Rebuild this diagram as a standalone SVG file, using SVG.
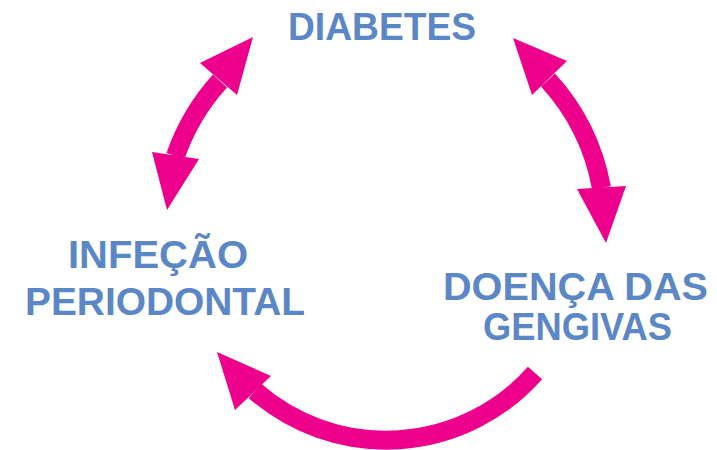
<svg xmlns="http://www.w3.org/2000/svg" width="717" height="450" viewBox="0 0 717 450">
<style>
.lbl{font-family:"Liberation Sans",Arial,sans-serif;font-weight:bold;font-size:39px;fill:#5B87C6}
.shaft{fill:none;stroke:#EC008C;stroke-width:19;stroke-linecap:butt}
.head{fill:#EC008C}
</style>
<rect width="717" height="450" fill="#fff"/>
<g id="diabetes"><text class="lbl" x="288" y="40" textLength="188" lengthAdjust="spacingAndGlyphs">DIABETES</text></g>
<g id="infecao"><text class="lbl" x="68" y="268" textLength="180" lengthAdjust="spacingAndGlyphs">INFEÇÃO</text><text class="lbl" x="25" y="315" textLength="280" lengthAdjust="spacingAndGlyphs">PERIODONTAL</text></g>
<g id="doenca"><text class="lbl" x="443" y="300" textLength="265" lengthAdjust="spacingAndGlyphs">DOENÇA DAS</text><text class="lbl" x="483" y="340" textLength="189" lengthAdjust="spacingAndGlyphs">GENGIVAS</text></g>
<g id="connectors">
<path class="shaft" d="M220,81 A218,218 0 0 0 175.5,156"/>
<polygon class="head" points="253,37 200,63 237,95"/>
<polygon class="head" points="167,210 152,152 199,159"/>
<path class="shaft" d="M548,80 A218,218 0 0 1 601.5,188"/>
<polygon class="head" points="513,38 567,61 532,95"/>
<polygon class="head" points="606,243 577,189 626,186"/>
<path class="shaft" d="M535,373 A199,199 0 0 1 255,391"/>
<polygon class="head" points="217,352 271,376 235,410"/>
</g>
</svg>
